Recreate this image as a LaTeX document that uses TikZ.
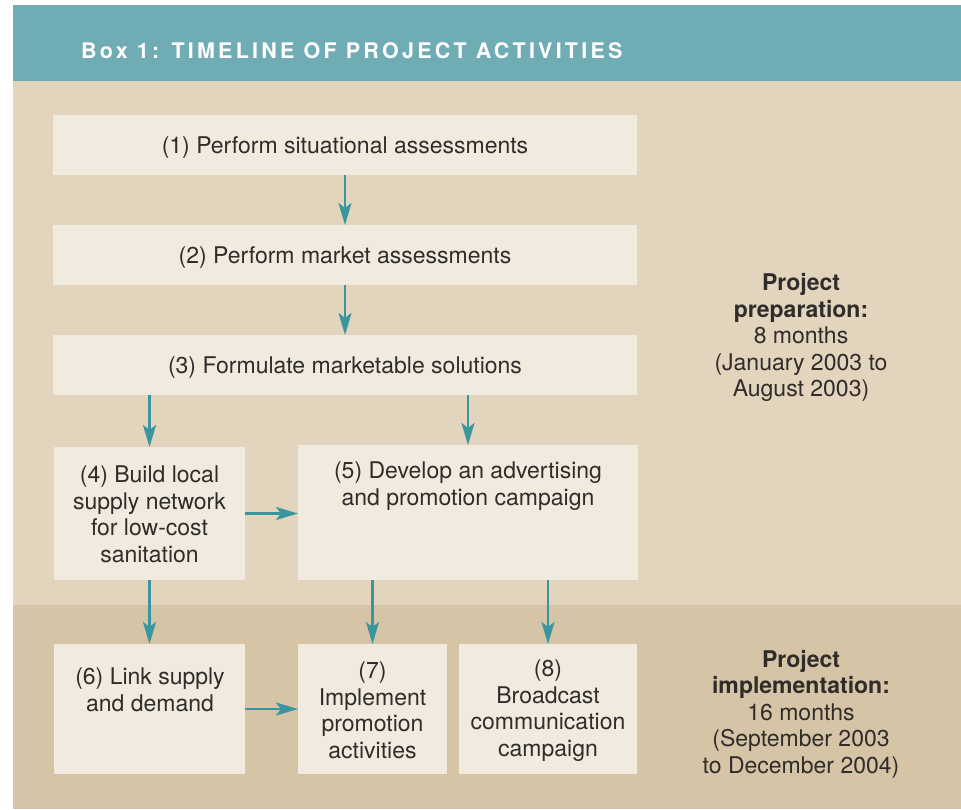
\documentclass[tikz,border=0pt]{standalone}
\usepackage{fontspec}
\setmainfont{TeX Gyre Heros}
\usetikzlibrary{arrows.meta}

\definecolor{headteal}{HTML}{70ACB4}
\definecolor{prepband}{HTML}{E2D4BD}
\definecolor{implband}{HTML}{D5C4A5}
\definecolor{boxfill}{HTML}{F1EBDF}
\definecolor{arrowteal}{HTML}{3A969E}
\definecolor{ink}{HTML}{302C2A}

\begin{document}
\begin{tikzpicture}[x=1pt, y=-1pt,
  stepbox/.style={fill=boxfill, draw=none, inner sep=0pt, outer sep=0pt, anchor=north west},
  boxtext/.style={text=ink, align=center, inner sep=0pt, font=\fontsize{23}{26.5}\selectfont},
  phasetext/.style={boxtext},
  flow/.style={draw=arrowteal, line width=2.4pt,
    -{Stealth[length=22pt, width=13pt, inset=5pt]}},
]
\useasboundingbox (0,0) rectangle (961,809);

% background bands
\fill[headteal] (13,5) rectangle (961,81);
\fill[prepband] (13,81) rectangle (961,605);
\fill[implband] (13,605) rectangle (961,809);

% title
\node[anchor=base west, inner sep=0pt, text=white,
      font=\fontsize{21.5}{25}\selectfont\bfseries\addfontfeature{LetterSpace=15}]
  (title) at (81,58) {Box 1: TIMELINE OF PROJECT ACTIVITIES};

% activity boxes
\node[stepbox, minimum width=584pt, minimum height=60pt] (b1) at (53,115) {};
\node[stepbox, minimum width=584pt, minimum height=60pt] (b2) at (53,225) {};
\node[stepbox, minimum width=584pt, minimum height=60pt] (b3) at (53,335) {};
\node[stepbox, minimum width=191pt, minimum height=133pt] (b4) at (54,447) {};
\node[stepbox, minimum width=340pt, minimum height=135pt] (b5) at (298,445) {};
\node[stepbox, minimum width=191pt, minimum height=130pt] (b6) at (54,644) {};
\node[stepbox, minimum width=149pt, minimum height=130pt] (b7) at (298,644) {};
\node[stepbox, minimum width=178pt, minimum height=130pt] (b8) at (459,644) {};

% box texts (base anchor of a multi-line node sits on its last line)
\node[boxtext] (t1) at ([yshift=-3pt]b1.center) {(1) Perform situational assessments};
\node[boxtext] (t2) at ([yshift=-3pt]b2.center) {(2) Perform market assessments};
\node[boxtext] (t3) at ([yshift=-3pt]b3.center) {(3) Formulate marketable solutions};
\node[boxtext] (t4) at ([yshift=-1pt]b4.center) {(4) Build local\\supply network\\for low-cost\\sanitation};
\node[boxtext, anchor=base] (t5) at (468,505) {(5) Develop an advertising\\and promotion campaign};
\node[boxtext, anchor=base] (t6) at (150,711) {(6) Link supply\\and demand};
\node[boxtext] (t7) at ([yshift=-1.5pt]b7.center) {(7)\\Implement\\promotion\\activities};
\node[boxtext] (t8) at ([yshift=-1.5pt]b8.center) {(8)\\Broadcast\\communication\\campaign};

% phase labels
\node[phasetext] (prep) at (801,337.5)
  {\textbf{Project}\\\textbf{preparation:}\\8 months\\(January 2003 to\\August 2003)};
\node[phasetext] (impl) at (801,714)
  {\textbf{Project}\\\textbf{implementation:}\\16 months\\(September 2003\\to December 2004)};

% connectors
\draw[flow] (b1.south) -- (b2.north);
\draw[flow] (b2.south) -- (b3.north);
\draw[flow] (b3.south -| b4.north) -- (b4.north);
\draw[flow] (b3.south -| b5.north) -- (b5.north);
\draw[flow] (b4.east) -- (b4.east -| b5.west);
\draw[flow] (b4.south) -- (b6.north);
\draw[flow] (b5.south -| b7.north) -- (b7.north);
\draw[flow] (b5.south -| b8.north) -- (b8.north);
\draw[flow] (b6.east) -- (b6.east -| b7.west);
\end{tikzpicture}
\end{document}
